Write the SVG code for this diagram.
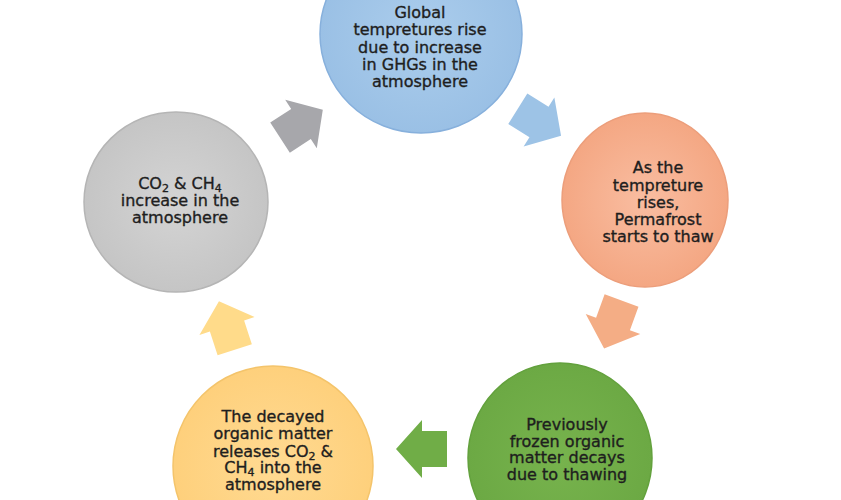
<svg xmlns="http://www.w3.org/2000/svg" width="841" height="500" viewBox="0 0 841 500">
<defs>
<radialGradient id="gBlue" cx="50%" cy="50%" r="50%"><stop offset="0" stop-color="#abcdec"/><stop offset="1" stop-color="#9ac0e5"/></radialGradient>
<radialGradient id="gOrange" cx="50%" cy="50%" r="50%"><stop offset="0" stop-color="#f9bda1"/><stop offset="1" stop-color="#f4a783"/></radialGradient>
<radialGradient id="gGreen" cx="50%" cy="50%" r="50%"><stop offset="0" stop-color="#77b34d"/><stop offset="1" stop-color="#6ca944"/></radialGradient>
<radialGradient id="gYellow" cx="50%" cy="50%" r="50%"><stop offset="0" stop-color="#ffda92"/><stop offset="1" stop-color="#fed07c"/></radialGradient>
<radialGradient id="gGray" cx="50%" cy="50%" r="50%"><stop offset="0" stop-color="#d4d4d4"/><stop offset="1" stop-color="#c5c5c5"/></radialGradient>
<path id="arr" d="M-25,-18 L0,-18 L0,-29 L26,0 L0,29 L0,18 L-25,18 Z"/>
</defs>
<style>
.lbl{font-family:"DejaVu Sans","Verdana",sans-serif;font-size:16px;fill:#1e1e1e;stroke:#1e1e1e;stroke-width:0.35px;text-anchor:middle}
.sub{font-size:11px}
</style>
<rect width="841" height="500" fill="#ffffff"/>
<g id="connectors">
<use href="#arr" transform="translate(301,124) rotate(-33)" fill="#a7a7ab"/>
<use href="#arr" transform="translate(539,122) rotate(32)" fill="#9dc3e6"/>
<use href="#arr" transform="translate(613,324) rotate(110)" fill="#f4ad85"/>
<use href="#arr" transform="translate(422,449) rotate(180)" fill="#70ad47"/>
<use href="#arr" transform="translate(227,326) rotate(-108)" fill="#ffdb8a"/>
</g>
<g id="node-global">
<ellipse cx="421" cy="34" rx="101" ry="99" fill="url(#gBlue)" stroke="#87b0dc" stroke-width="1.5"/>
<text class="lbl"><tspan x="420" y="18">Global</tspan><tspan x="420" y="35">tempretures rise</tspan><tspan x="420" y="53">due to increase</tspan><tspan x="420" y="70">in GHGs in the</tspan><tspan x="420" y="87">atmosphere</tspan></text>
</g>
<g id="node-thaw">
<ellipse cx="645" cy="200" rx="83" ry="87" fill="url(#gOrange)" stroke="#ec9e7b" stroke-width="1.5"/>
<text class="lbl"><tspan x="658" y="173">As the</tspan><tspan x="658" y="191">tempreture</tspan><tspan x="658" y="208">rises,</tspan><tspan x="658" y="225">Permafrost</tspan><tspan x="658" y="242">starts to thaw</tspan></text>
</g>
<g id="node-decay">
<ellipse cx="560" cy="458" rx="92" ry="95" fill="url(#gGreen)" stroke="#63a13d" stroke-width="1.5"/>
<text class="lbl"><tspan x="567" y="430">Previously</tspan><tspan x="567" y="447">frozen organic</tspan><tspan x="567" y="463">matter decays</tspan><tspan x="567" y="480">due to thawing</tspan></text>
</g>
<g id="node-release">
<ellipse cx="273" cy="466" rx="100" ry="100" fill="url(#gYellow)" stroke="#f4c46b" stroke-width="1.5"/>
<text class="lbl"><tspan x="273" y="422">The decayed</tspan><tspan x="273" y="439">organic matter</tspan><tspan x="273" y="457">releases CO</tspan><tspan class="sub" dy="3">2</tspan><tspan dy="-3">  &amp;</tspan><tspan x="273" y="473">CH</tspan><tspan class="sub" dy="3">4</tspan><tspan dy="-3"> into the</tspan><tspan x="273" y="490">atmosphere</tspan></text>
</g>
<g id="node-increase">
<ellipse cx="176" cy="202" rx="92" ry="90" fill="url(#gGray)" stroke="#b5b5b5" stroke-width="1.5"/>
<text class="lbl"><tspan x="180" y="189">CO</tspan><tspan class="sub" dy="3">2</tspan><tspan dy="-3"> &amp; CH</tspan><tspan class="sub" dy="3">4</tspan><tspan x="180" y="206">increase in the</tspan><tspan x="180" y="223">atmosphere</tspan></text>
</g>
</svg>
